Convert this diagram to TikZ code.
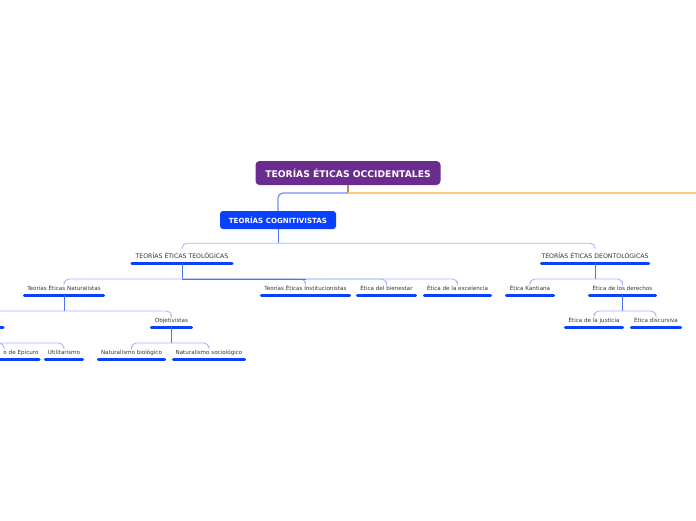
\documentclass[tikz,border=0pt]{standalone}
\usepackage{fontspec}
\setmainfont{DejaVu Sans}
\usetikzlibrary{calc,positioning}

\definecolor{rootpurple}{HTML}{6A2C8E}
\definecolor{topicblue}{HTML}{0A40FF}
\definecolor{linkblue}{HTML}{A6B8FF}
\definecolor{stemblue}{HTML}{4E70FF}
\definecolor{rootblue}{HTML}{6F8FFF}
\definecolor{linkorange}{HTML}{FFC878}
\definecolor{stembrown}{HTML}{C08A4A}
\definecolor{textgray}{HTML}{333333}

\begin{document}
\begin{tikzpicture}[x=1pt,y=-1pt,
    root node/.style={fill=rootpurple,rounded corners=4pt,text=white,inner sep=0,
      font=\fontsize{9.2}{10}\selectfont\bfseries,minimum width=185pt,minimum height=24pt},
    main node/.style={fill=topicblue,rounded corners=3pt,text=white,inner sep=0,
      font=\fontsize{7.1}{8}\selectfont\bfseries,minimum width=116pt,minimum height=18pt},
    bar/.style={draw=topicblue,line width=3pt,line cap=round},
    topic node/.style={anchor=south,inner xsep=0,inner ysep=4pt,text depth=0pt,
      text=textgray,font=\fontsize{5.6}{6}\selectfont,
      append after command={(\tikzlastnode.south west) edge[bar] (\tikzlastnode.south east)}},
    caps/.style={font=\fontsize{6.2}{7}\selectfont},
    link/.style={draw=linkblue,line width=0.9pt,rounded corners=5pt},
    stem/.style={draw=stemblue,line width=0.9pt}]
    \useasboundingbox (0,0) rectangle (696,520);
    \clip (0,0) rectangle (696,520);

    \node[root node] (root) at (348,173) {TEORÍAS ÉTICAS OCCIDENTALES};
    \node[main node] (cog) at (278,220) {TEORÍAS COGNITIVISTAS};
    \coordinate (rj) at (348,193);
    \coordinate (away) at (700,193);

    % second level
    \node[topic node,caps,minimum width=100pt] (teo) at (182,263) {TEORÍAS ÉTICAS TEOLÓGICAS};
    \node[topic node,caps,minimum width=105pt] (deo) at (595,263) {TEORÍAS ÉTICAS DEONTOLÓGICAS};

    % third level
    \node[topic node,minimum width=79pt] (nat) at (64,295) {Teorías Éticas Naturalistas};
    \node[topic node,minimum width=88pt] (inst) at (305.5,295) {Teorías Éticas Institucionistas};
    \node[topic node,minimum width=58pt] (bien) at (386.5,295) {Ética del bienestar};
    \node[topic node,minimum width=66pt] (exc) at (457.5,295) {Ética de la excelencia};
    \node[topic node,minimum width=47pt] (kant) at (530,295) {Ética Kantiana};
    \node[topic node,minimum width=66pt] (der) at (622.5,295) {Ética de los derechos};

    % fourth level
    \node[topic node,minimum width=50pt] (subj) at (-22,327) {};
    \node[topic node,minimum width=40pt] (obj) at (171.5,327) {Objetivistas};
    \node[topic node,minimum width=57pt] (jus) at (594,327) {Ética de la justicia};
    \node[topic node,minimum width=49pt] (disc) at (656,327) {Ética discursiva};

    % fifth level
    \node[topic node,text width=70pt,align=right] (epi) at (4,359) {o de Epicuro\hspace*{0.5pt}};
    \node[topic node,minimum width=37pt] (util) at (64,359) {Utilitarismo};
    \node[topic node,minimum width=66pt] (bio) at (131.5,359) {Naturalismo biológico};
    \node[topic node,minimum width=71pt] (soc) at (209,359) {Naturalismo sociológico};

    % connectors
    \draw[stembrown,line width=1.2pt] (root.south) -- (rj);
    \draw[linkorange,line width=1.4pt] (rj) -- (away);
    \draw[rootblue,line width=1.2pt,rounded corners=5pt] (rj) -| (cog.north);

    \draw[stem] (cog.south) -- ++(0,14) coordinate (cogbus);
    \foreach \c in {teo,deo} \draw[link] (cogbus) -| (\c.north);

    \draw[stem] (teo.south) -- ++(0,16) coordinate (teobus);
    \foreach \c in {nat,inst,bien,exc} \draw[link] (teobus) -| (\c.north);
    \draw[stem] (teobus) -- (teobus -| inst.north);

    \draw[stem] (deo.south) -- ++(0,16) coordinate (deobus);
    \foreach \c in {kant,der} \draw[link] (deobus) -| (\c.north);

    \draw[stem] (der.south) -- ++(0,16) coordinate (derbus);
    \foreach \c in {jus,disc} \draw[link] (derbus) -| (\c.north);

    \draw[stem] (nat.south) -- ++(0,16) coordinate (natbus);
    \foreach \c in {subj,obj} \draw[link] (natbus) -| (\c.north);

    \draw[stem] (subj.south) -- ++(0,16) coordinate (subjbus);
    \foreach \c in {epi,util} \draw[link] (subjbus) -| (\c.north);

    \draw[stem] (obj.south) -- ++(0,16) coordinate (objbus);
    \foreach \c in {bio,soc} \draw[link] (objbus) -| (\c.north);
\end{tikzpicture}
\end{document}
